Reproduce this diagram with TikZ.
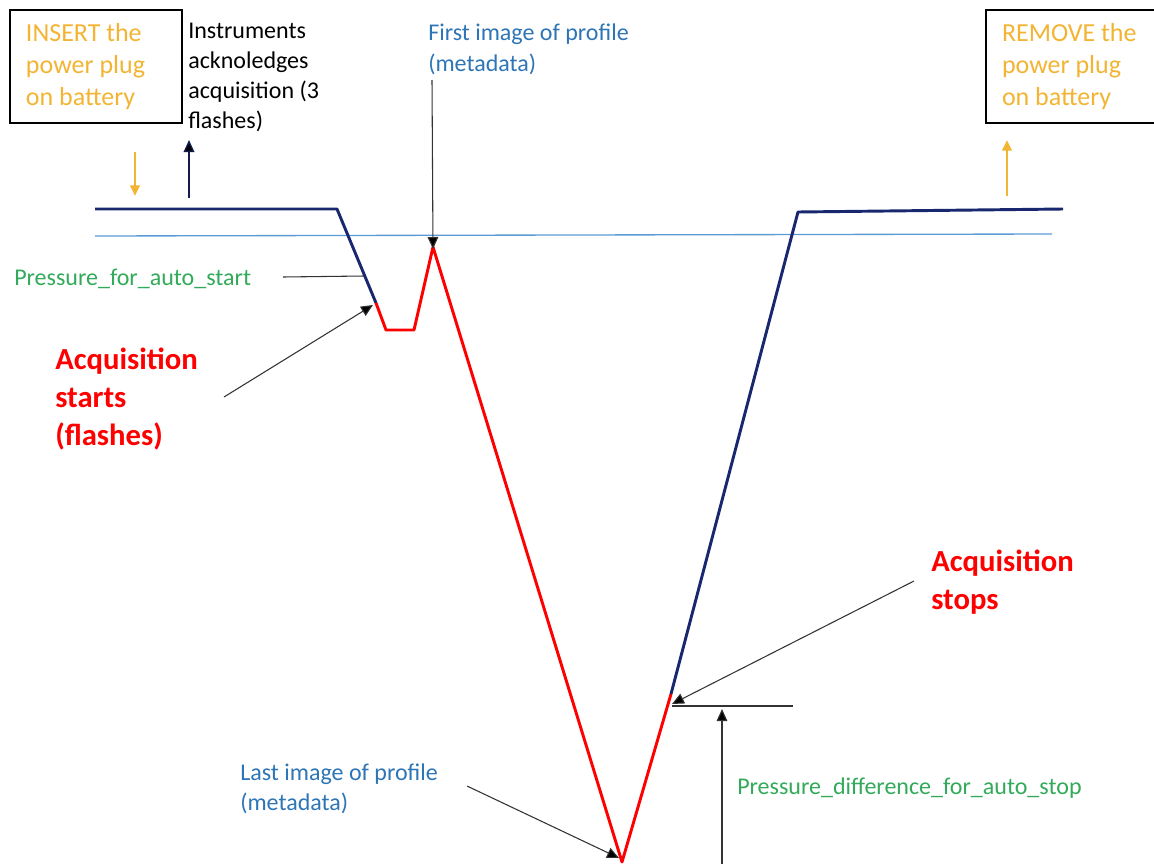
\documentclass[tikz,border=0pt]{standalone}
\usepackage{fontspec}
\setmainfont{Carlito}
\usetikzlibrary{arrows.meta}
\definecolor{plugorange}{RGB}{242,180,50}
\definecolor{navy}{RGB}{25,40,110}
\definecolor{lightblue}{RGB}{91,155,213}
\definecolor{textblue}{RGB}{46,117,182}
\definecolor{labelgreen}{RGB}{50,170,90}
\definecolor{acqred}{RGB}{255,0,0}
\begin{document}
\begin{tikzpicture}[x=0.75pt,y=-0.75pt,
 plugbox/.style={draw=black,line width=1.5pt,anchor=north west,align=flush left,text width=105pt,inner xsep=12pt,inner ysep=8pt,text=plugorange,font=\fontsize{19.5}{24}\selectfont,minimum height=84.75pt},
 note/.style={anchor=north west,align=left,inner sep=0pt,font=\fontsize{18}{22.5}\selectfont},
 big/.style={anchor=north west,align=left,inner sep=0pt,text=acqred,font=\bfseries\fontsize{23}{28.5}\selectfont},
 green label/.style={anchor=west,inner sep=0pt,text=labelgreen,font=\fontsize{18}{22.5}\selectfont},
 profile/.style={line width=2.2pt,line join=round},
 pointer/.style={draw=black!80,line width=0.8pt,-{Triangle[length=9pt,width=8pt,fill=black]}},
 plain/.style={draw=black!80,line width=0.8pt},
 plugarrow/.style={draw=plugorange,line width=2pt,-{Triangle[length=8pt,width=7pt]}}]
\useasboundingbox (0,0) rectangle (1154,864);

% boxes and texts
\node[plugbox] (insert) at (9,9) {INSERT the\\power plug\\on battery};
\node[plugbox] (remove) at (985,9) {REMOVE the\\power plug\\on battery};
\node[note] (ack) at (188,23) {Instruments\\acknoledges\\acquisition (3\\flashes)};
\node[note,text=textblue,font=\fontsize{18}{23.25}\selectfont] (first) at (428,24) {First image of profile\\(metadata)};
\node[note,text=textblue,font=\fontsize{18}{22}\selectfont] (last) at (240,764) {Last image of profile\\(metadata)};
\node[green label] (pstart) at (14,279) {Pressure\_for\_auto\_start};
\node[green label] (pstop) at (737,788) {Pressure\_difference\_for\_auto\_stop};
\node[big] (astart) at (55,348) {Acquisition\\starts\\(flashes)};
\node[big] (astop) at (931,550) {Acquisition\\stops};

% profile points
\coordinate (p0) at (95,209);
\coordinate (p1) at (337,209);
\coordinate (p2) at (376,303);
\coordinate (p3) at (386,330);
\coordinate (p4) at (414,330);
\coordinate (p5) at (433,247);
\coordinate (p6) at (622,862);
\coordinate (p7) at (671,694);
\coordinate (p8) at (798,212);
\coordinate (p9) at (1063,209);

\draw[lightblue,line width=1pt] (95,236) coordinate (s0) -- (1052,234) coordinate (s1);
\draw[profile,navy] (p0) -- (p1) -- (p2);
\draw[profile,acqred] (p2) -- (p3) -- (p4) -- (p5) -- (p6) -- (p7);
\draw[profile,navy] (p7) -- (p8) -- (p9);

% small vertical arrows
\coordinate (ins0) at (135,152); \coordinate (ins1) at (135,196);
\draw[plugarrow] (ins0) -- (ins1);
\coordinate (rem0) at (1007,196); \coordinate (rem1) at (1007,140);
\draw[plugarrow] (rem0) -- (rem1);
\coordinate (ack0) at (189,198); \coordinate (ack1) at (189,140);
\draw[draw=navy!70!black,line width=1pt,-{Triangle[length=9pt,width=8pt,fill=black]}] (ack0) -- (ack1);

% pointers
\coordinate (f0) at (432,80); \coordinate (f1) at (433,249);
\draw[pointer] (f0) -- (f1);
\coordinate (as0) at (224,397); \coordinate (as1) at (373,305);
\draw[pointer] (as0) -- (as1);
\coordinate (li0) at (467,786); \coordinate (li1) at (619,858);
\draw[pointer] (li0) -- (li1);
\coordinate (ao0) at (914,581); \coordinate (ao1) at (672,704);
\draw[pointer] (ao0) -- (ao1);
\coordinate (h0) at (672,706); \coordinate (h1) at (793,706);
\draw[plain] (h0) -- (h1);
\coordinate (u0) at (722,864); \coordinate (u1) at (722,709);
\draw[pointer] (u0) -- (u1);
\coordinate (ps0) at (283,277); \coordinate (ps1) at (364,276);
\draw[plain] (ps0) -- (ps1);
\end{tikzpicture}
\end{document}
